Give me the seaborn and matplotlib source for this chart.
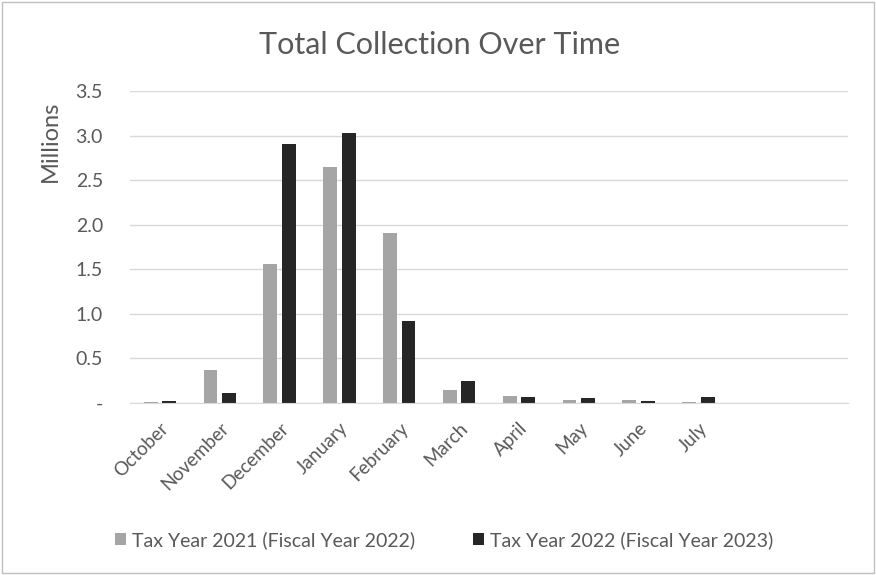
import pandas as pd
import numpy as np
import matplotlib
matplotlib.use('Agg')
import matplotlib.pyplot as plt
import seaborn as sns
from matplotlib.patches import Rectangle

# Data (values in millions)
months = ['October', 'November', 'December', 'January', 'February', 'March',
          'April', 'May', 'June', 'July', ' ', '  ']
ty2021 = [0.01, 0.37, 1.56, 2.65, 1.91, 0.15, 0.08, 0.03, 0.03, 0.01, 0, 0]
ty2022 = [0.02, 0.11, 2.90, 3.03, 0.92, 0.25, 0.07, 0.06, 0.02, 0.07, 0, 0]
series_names = ['Tax Year 2021 (Fiscal Year 2022)', 'Tax Year 2022 (Fiscal Year 2023)']
yticks = [0, 0.5, 1.0, 1.5, 2.0, 2.5, 3.0, 3.5]
ytick_labels = ['-', '0.5', '1.0', '1.5', '2.0', '2.5', '3.0', '3.5']

df = pd.DataFrame({
    'Month': months * 2,
    'Value': ty2021 + ty2022,
    'Series': [series_names[0]] * len(months) + [series_names[1]] * len(months),
})

sns.set_style("white")
plt.rcParams['font.family'] = ['Lato', 'DejaVu Sans']

text_color = '#595959'
grid_color = '#D9D9D9'
colors = ['#A5A5A5', '#262626']

fig = plt.figure(figsize=(8.76, 5.75), dpi=100)
ax = fig.add_axes([130 / 876, 1 - 403 / 575, (848 - 130) / 876, (403 - 91) / 575])

sns.barplot(data=df, x='Month', y='Value', hue='Series', order=months,
            palette=colors, width=0.62, gap=0.25, ax=ax, legend=True,
            edgecolor='none')

ax.set_ylim(0, 3.5)
ax.set_yticks(yticks)
ax.set_yticklabels(ytick_labels, color=text_color, fontsize=14)
ax.yaxis.grid(True, color=grid_color, linewidth=1)
ax.set_axisbelow(True)
ax.set_xlim(-0.5, len(months) - 0.5)
ax.tick_params(axis='both', length=0)
ax.tick_params(axis='y', pad=19.5)
ax.tick_params(axis='x', pad=12)
ax.set_xticks(range(len(months)))
ax.set_xticklabels(months, rotation=45, ha='right', rotation_mode='anchor',
                   color=text_color, fontsize=13.5)
ax.set_xlabel('')
ax.set_ylabel('')
for s in ['top', 'right', 'left']:
    ax.spines[s].set_visible(False)
ax.spines['bottom'].set_color(grid_color)

fig.text(50 / 876, 1 - 141 / 575, 'Millions', rotation=90, ha='center', va='center',
         color=text_color, fontsize=17)
fig.text(440 / 876, 1 - 45 / 575, 'Total Collection Over Time', ha='center', va='center',
         color=text_color, fontsize=22)

handles, labels = ax.get_legend_handles_labels()
ax.legend_.remove()
fig.legend(handles, labels, loc='center', bbox_to_anchor=(444 / 876, 1 - 540 / 575),
           ncol=2, frameon=False, fontsize=14, labelcolor=text_color,
           handlelength=0.55, handleheight=0.55, handletextpad=0.3, columnspacing=3.0)

fig.patches.append(Rectangle((0.002, 0.003), 0.996, 0.994, transform=fig.transFigure,
                             fill=False, edgecolor='#BFBFBF', linewidth=1))

plt.savefig('out.png', dpi=100)
